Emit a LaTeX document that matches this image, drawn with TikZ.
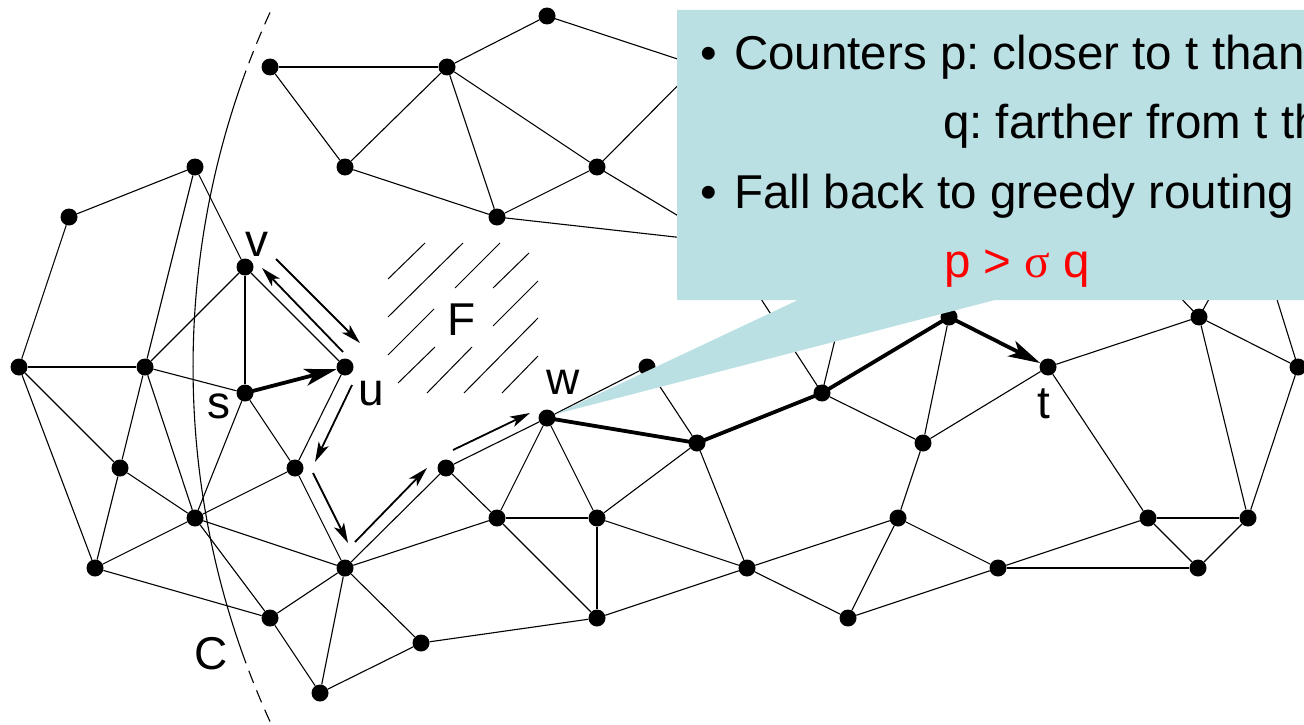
\documentclass[tikz,border=0pt]{standalone}
\usepackage{fontspec}
\setmainfont{Liberation Sans}
\newfontfamily\serifgr{Liberation Serif}
\usetikzlibrary{arrows.meta}
\definecolor{calloutfill}{RGB}{187,224,227}
\frenchspacing
\begin{document}
\begin{tikzpicture}[x=1pt,y=-1pt,
  dot/.style={circle,fill=black,inner sep=0pt,minimum size=17pt},
  edge/.style={line width=1.1pt},
  pathedge/.style={line width=3.8pt,line join=round},
  smallarrow/.style={line width=1.8pt,-{Stealth[length=20pt,width=11pt,inset=5pt]}},
  bigarrow/.style={line width=3.8pt,-{Stealth[length=32pt,width=17pt,inset=8pt]}},
  lbl/.style={inner sep=0pt,font=\fontsize{46}{50}\selectfont},
  txt/.style={inner sep=0pt,anchor=base west,font=\fontsize{47.5}{55}\selectfont},
  hatch/.style={line width=1pt},
  circdash/.style={line width=1.1pt,dash pattern=on 13pt off 8pt}
]
\useasboundingbox (0,0) rectangle (1304,725);
\clip (0,0) rectangle (1304,725);

% ---- nodes ----
\node[dot] (t1) at (270,67) {};
\node[dot] (t2) at (447,67) {};
\node[dot] (t3) at (547,16) {};
\node[dot] (t4) at (345,167) {};
\node[dot] (t5) at (597,167) {};
\node[dot] (t6) at (497,217) {};

\node[dot] (a1) at (19,367) {};
\node[dot] (a2) at (69,217) {};
\node[dot] (a3) at (195,167) {};
\node[dot] (a4) at (145,367) {};
\node[dot] (v) at (245,267) {};
\node[dot] (s) at (245,393) {};
\node[dot] (u) at (345,367) {};
\node[dot] (a5) at (120,468) {};
\node[dot] (a6) at (195,518) {};
\node[dot] (a7) at (295,468) {};
\node[dot] (a8) at (95,568) {};
\node[dot] (a9) at (345,568) {};
\node[dot] (a10) at (270,618) {};
\node[dot] (a11) at (421,643) {};
\node[dot] (a12) at (320,693) {};
\node[dot] (a13) at (446,468) {};
\node[dot] (w) at (547,418) {};

\node[dot] (m1) at (647,367) {};
\node[dot] (m2) at (697,443) {};
\node[dot] (m3) at (497,518) {};
\node[dot] (m4) at (597,518) {};
\node[dot] (m5) at (597,618) {};
\node[dot] (m6) at (747,568) {};
\node[dot] (m7) at (822,393) {};
\node[dot] (m8) at (949,317) {};
\node[dot] (t) at (1048,367) {};
\node[dot] (m9) at (923,443) {};
\node[dot] (m10) at (898,518) {};
\node[dot] (m11) at (848,618) {};
\node[dot] (m12) at (998,568) {};
\node[dot] (m13) at (1148,518) {};
\node[dot] (m14) at (1248,518) {};
\node[dot] (m15) at (1198,568) {};
\node[dot] (m16) at (1199,317) {};
\node[dot] (m17) at (1298,367) {};

% hidden ends under the callout
\coordinate (h1) at (720,73);
\coordinate (h2) at (710,53);
\coordinate (h3) at (710,235);
\coordinate (h4) at (720,242);
\coordinate (h5) at (750,282);
\coordinate (h6) at (850,278);
\coordinate (h7) at (1170,287);
\coordinate (h8) at (1214,290);
\coordinate (h9) at (1274,290);

% ---- circle C around t ----
\draw[edge] (t.center) ++(160.3:855) arc[start angle=160.3,end angle=199.8,radius=855];
\draw[circdash] (t.center) ++(204.5:855) arc[start angle=204.5,end angle=199.8,radius=855];
\draw[circdash] (t.center) ++(155.5:855) arc[start angle=155.5,end angle=160.3,radius=855];

% ---- edges ----
\foreach \p/\q in {t1/t2,t1/t4,t4/t2,t4/t6,t2/t3,t2/t5,t2/t6,t5/t6,
  a2/a3,a2/a1,a3/a4,a3/v,v/a4,v/s,v/u,a1/a4,a4/s,a1/a5,a1/a8,a4/a5,a4/a6,
  a5/a8,a5/a6,s/a6,s/a7,u/a7,a7/a6,a7/a9,a6/a8,a6/a9,a6/a10,a8/a10,a10/a9,
  a10/a12,a9/a12,a9/a11,a12/a11,a11/m5,a9/a13,a9/m3,
  a13/w,w/m1,a13/m3,w/m3,w/m4,m1/m2,m3/m4,m3/m5,m4/m5,m4/m2,m4/m6,m2/m6,
  m5/m6,m6/m11,m6/m10,m7/m9,m8/m9,m9/t,t/m16,m16/m17,m16/m14,m17/m14,
  t/m13,m9/m10,m10/m11,m10/m12,m11/m12,m12/m13,m12/m15,m13/m14,m13/m15,m14/m15}
  \draw[edge] (\p) -- (\q);
\foreach \p/\q in {t3/h1,t5/h2,t5/h3,t6/h4,m7/h5,m7/h6,m16/h7,m16/h8,m17/h9}
  \draw[edge] (\p.center) -- (\q);

% ---- hatching of face F ----
\draw[hatch] (388,279) -- (425,243);
\draw[hatch] (388,317) -- (463,243);
\draw[hatch] (455,288) -- (500,243);
\draw[hatch] (493,288) -- (529,253);
\draw[hatch] (388,355) -- (434,309);
\draw[hatch] (493,326) -- (538,281);
\draw[hatch] (398,383) -- (435,347);
\draw[hatch] (427,393) -- (472,347);
\draw[hatch] (464,393) -- (538,318);
\draw[hatch] (502,393) -- (538,356);

% ---- greedy path ----
\draw[pathedge] (w.center) -- (m2.center) -- (m7.center) -- (m8.center);
\draw[bigarrow] (m8.center) -- (t);
\draw[bigarrow] (s.center) -- (u);

% ---- face-routing arrows ----
\coordinate (vu1) at (276,259); \coordinate (vu2) at (360,343);
\coordinate (uv1) at (343,352); \coordinate (uv2) at (262,268);
\coordinate (ua1) at (352,385); \coordinate (ua2) at (315,462);
\coordinate (aa1) at (313,473); \coordinate (aa2) at (348,543);
\coordinate (ab1) at (355,542); \coordinate (ab2) at (427,468);
\coordinate (ac1) at (453,450); \coordinate (ac2) at (530,413);
\draw[smallarrow] (vu1) -- (vu2);
\draw[smallarrow] (uv1) -- (uv2);
\draw[smallarrow] (ua1) -- (ua2);
\draw[smallarrow] (aa1) -- (aa2);
\draw[smallarrow] (ab1) -- (ab2);
\draw[smallarrow] (ac1) -- (ac2);

% ---- callout ----
\fill[calloutfill] (677,10) -- (1320,10) -- (1320,300) -- (995,300) -- (556,414)
  -- (798,300) -- (677,300) -- cycle;
\node[txt] (b1) at (700,70) {•};
\node[txt] (l1) at (734,70) {Counters p: closer to t than};
\node[txt] (l2) at (943,138) {q: farther from t th};
\node[txt] (b2) at (700,208) {•};
\node[txt] (l3) at (734,208) {Fall back to greedy routing};
\node[txt,text=red] (l4) at (944,277) {p > {\serifgr σ} q};

% ---- labels ----
\node[lbl] (lv) at (257,244) {v};
\node[lbl] (ls) at (219,406) {s};
\node[lbl] (lu) at (371,394) {u};
\node[lbl] (lC) at (211,654) {C};
\node[lbl] (lF) at (462,320) {F};
\node[lbl] (lw) at (563,382) {w};
\node[lbl] (lt) at (1044,404) {t};
\end{tikzpicture}
\end{document}
